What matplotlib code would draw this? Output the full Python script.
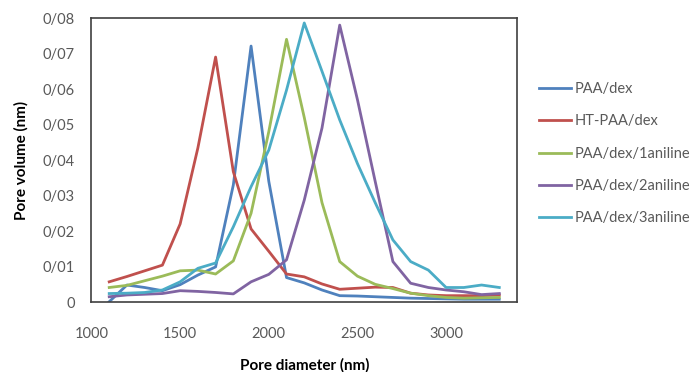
import matplotlib
matplotlib.use("Agg")
import matplotlib.pyplot as plt

diameter = [1100, 1200, 1300, 1400, 1500, 1600, 1700, 1800, 1900, 2000, 2100, 2200,
            2300, 2400, 2500, 2600, 2700, 2800, 2900, 3000, 3100, 3200, 3300]

paa_dex = [0.0001, 0.0048, 0.0041, 0.0032, 0.0049, 0.0076, 0.0099, 0.033, 0.0721, 0.034, 0.0069, 0.0054,
           0.0034, 0.0018, 0.0017, 0.0015, 0.0013, 0.0011, 0.001, 0.0009, 0.0008, 0.0008, 0.0008]
ht_paa_dex = [0.0057, 0.0072, 0.0088, 0.0104, 0.022, 0.0434, 0.069, 0.0367, 0.0206, 0.0143, 0.0079, 0.0071,
              0.0051, 0.0036, 0.0039, 0.0042, 0.0041, 0.0025, 0.002, 0.0018, 0.0018, 0.0018, 0.002]
aniline1 = [0.0041, 0.0047, 0.006, 0.0073, 0.0088, 0.009, 0.0079, 0.0116, 0.025, 0.048, 0.074, 0.052,
            0.028, 0.0114, 0.0073, 0.005, 0.0038, 0.0025, 0.0018, 0.0013, 0.0011, 0.0012, 0.0013]
aniline2 = [0.0015, 0.002, 0.0022, 0.0024, 0.0032, 0.003, 0.0027, 0.0023, 0.0057, 0.0078, 0.0119, 0.0287,
            0.049, 0.078, 0.057, 0.034, 0.0114, 0.0053, 0.0041, 0.0034, 0.0029, 0.0021, 0.0024]
aniline3 = [0.0024, 0.0025, 0.0027, 0.0034, 0.0057, 0.0095, 0.011, 0.0212, 0.0325, 0.0428, 0.0597, 0.0786,
            0.065, 0.0513, 0.039, 0.028, 0.0175, 0.0114, 0.009, 0.0041, 0.0041, 0.0048, 0.0041]

names = ["PAA/dex", "HT-PAA/dex", "PAA/dex/1aniline", "PAA/dex/2aniline", "PAA/dex/3aniline"]
colors = ["#4F81BD", "#C0504D", "#9BBB59", "#8064A2", "#4BACC6"]

x_ticks = [1000, 1500, 2000, 2500, 3000]
y_ticks = [0, 0.01, 0.02, 0.03, 0.04, 0.05, 0.06, 0.07, 0.08]
y_labels = ["0", "0/01", "0/02", "0/03", "0/04", "0/05", "0/06", "0/07", "0/08"]

plt.rcParams['font.family'] = ['Lato', 'DejaVu Sans']

fig = plt.figure(figsize=(7, 3.72), dpi=100)
ax = fig.add_axes([0.1307, 0.188, 0.6079, 0.7636])

for ys, name, c in zip([paa_dex, ht_paa_dex, aniline1, aniline2, aniline3], names, colors):
    ax.plot(diameter, ys, color=c, lw=2, label=name)

ax.set_xlim(1000, 3400)
ax.set_ylim(0, 0.08)
ax.set_xticks(x_ticks)
ax.set_yticks(y_ticks)
ax.set_yticklabels(y_labels)
ax.tick_params(length=0, labelsize=10.5, labelcolor="#595959")
ax.tick_params(axis="x", pad=18)
ax.tick_params(axis="y", pad=12)
for s in ax.spines.values():
    s.set_color("#404040")
    s.set_linewidth(1.2)

ax.set_xlabel("Pore diameter (nm)", fontsize=11, fontweight="bold", labelpad=12)
ax.set_ylabel("Pore volume (nm)", fontsize=11, fontweight="bold", labelpad=10)

ax.legend(loc="upper left", bbox_to_anchor=(1.02, 0.82), frameon=False, fontsize=10.5,
          handlelength=2.2, handletextpad=0.3, labelspacing=1.25, labelcolor="#595959")

fig.savefig("out.png", dpi=100)
